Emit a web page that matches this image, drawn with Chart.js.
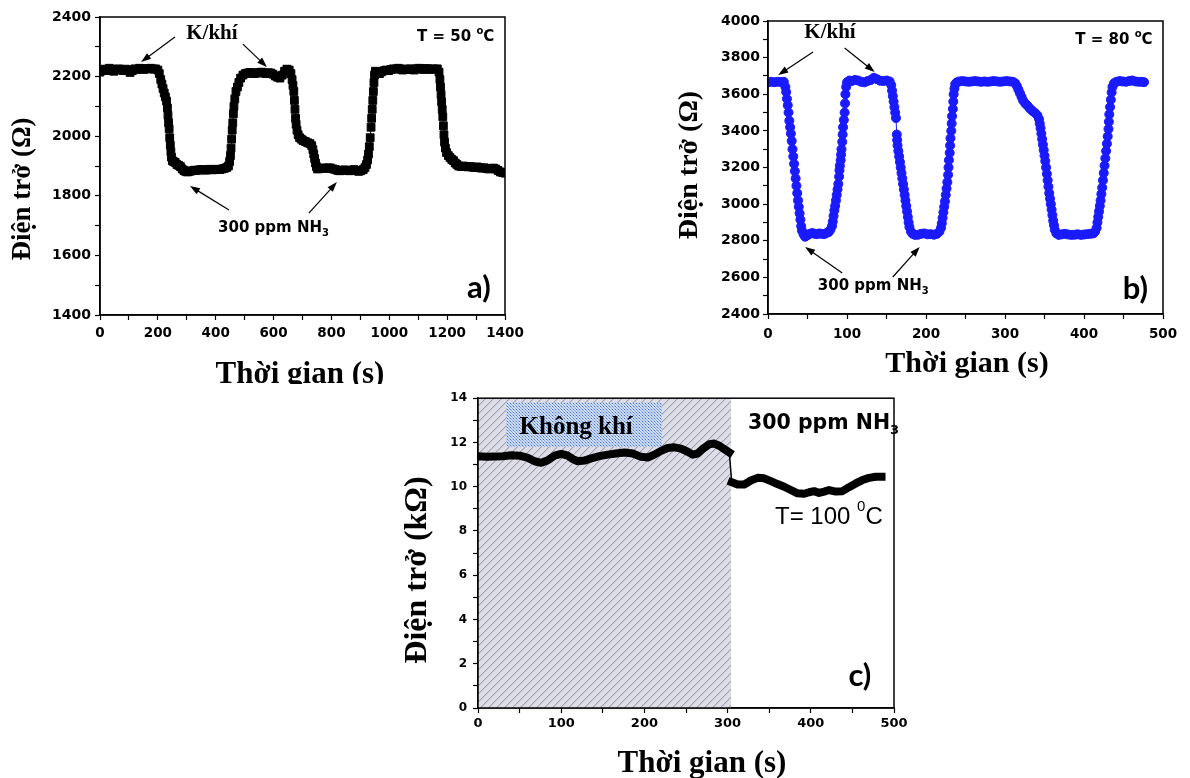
<!DOCTYPE html>
<html>
<head>
<meta charset="utf-8">
<script src="https://cdn.jsdelivr.net/npm/chart.js@4.4.1/dist/chart.umd.min.js"></script>
<style>
  body { margin: 0; background: #fff; width: 1190px; height: 778px; position: relative; overflow: hidden; }
  canvas { position: absolute; }
</style>
</head>
<body>
<canvas id="chartA" width="560" height="384" style="left:0;top:0"></canvas>
<canvas id="chartB" width="530" height="390" style="left:660px;top:0"></canvas>
<canvas id="chartC" width="530" height="393" style="left:390px;top:385px"></canvas>
<script>
// a) T = 50 oC
const tiempoA = [0, 8, 16, 24, 32, 40, 48, 56, 64, 72, 80, 88, 96, 104, 112, 120, 128, 136, 144, 152, 160, 168, 176, 184, 192, 200,
  205, 210, 214, 218, 222, 226, 230, 233, 235, 237, 239, 241, 243, 245, 247, 250, 254, 260, 266, 272, 278, 284, 290, 296, 302,
  310, 318, 326, 334, 342, 350, 358, 366, 374, 382, 390, 398, 406, 414, 422, 430, 438, 444, 448, 451, 453, 455, 457, 459, 461,
  463, 466, 470, 475, 480, 486, 494, 502, 510, 518, 526, 534, 542, 550, 558, 566, 574, 582, 590, 598, 606, 614, 622, 630, 638,
  646, 654, 660, 664, 667, 670, 672, 674, 676, 678, 681, 685, 690, 696, 702, 710, 718, 726, 732, 736, 739, 742, 745, 748, 752,
  758, 766, 774, 782, 790, 798, 806, 814, 822, 830, 838, 846, 854, 862, 870, 878, 886, 894, 902, 910, 916, 921, 925, 928, 931,
  934, 937, 939, 941, 943, 945, 947, 949, 952, 958, 966, 974, 982, 990, 998, 1006, 1014, 1022, 1030, 1038, 1046, 1054, 1062,
  1070, 1078, 1086, 1094, 1102, 1110, 1118, 1126, 1134, 1142, 1150, 1158, 1166, 1172, 1175, 1177, 1179, 1181, 1183, 1185, 1187,
  1189, 1191, 1194, 1198, 1204, 1210, 1216, 1222, 1228, 1234, 1240, 1248, 1256, 1264, 1272, 1280, 1288, 1296, 1304, 1312, 1320,
  1328, 1336, 1344, 1352, 1360, 1368, 1376, 1384, 1392, 1400];
const resistA = [2215, 2222, 2225, 2220, 2228, 2225, 2218, 2222, 2226, 2224, 2220, 2225, 2222, 2214, 2220, 2226, 2224, 2228, 2226, 2224, 2227, 2226, 2228, 2225, 2226, 2222,
  2210, 2190, 2175, 2160, 2145, 2132, 2118, 2095, 2070, 2045, 2025, 1995, 1970, 1948, 1930, 1918, 1915, 1912, 1905, 1902, 1898, 1890, 1885, 1882, 1880,
  1882, 1884, 1886, 1885, 1887, 1888, 1887, 1886, 1888, 1889, 1887, 1888, 1889, 1888, 1890, 1892, 1895, 1900, 1915, 1935, 1960, 1990, 2020, 2045, 2075,
  2100, 2125, 2150, 2165, 2180, 2195, 2205, 2210, 2212, 2214, 2212, 2210, 2212, 2214, 2215, 2212, 2210, 2213, 2212, 2208, 2202, 2198, 2195, 2205, 2218,
  2225, 2222, 2210, 2190, 2170, 2150, 2120, 2090, 2060, 2040, 2020, 2005, 1995, 1990, 1985, 1982, 1978, 1975, 1968, 1955, 1940, 1925, 1910, 1898, 1890,
  1892, 1893, 1893, 1892, 1894, 1893, 1890, 1888, 1885, 1884, 1886, 1887, 1885, 1884, 1886, 1888, 1885, 1882, 1884, 1888, 1895, 1905, 1920, 1940, 1965,
  1995, 2030, 2060, 2090, 2120, 2150, 2180, 2205, 2218, 2215, 2210, 2216, 2220, 2222, 2220, 2224, 2226, 2225, 2228, 2226, 2222, 2225, 2224,
  2226, 2225, 2222, 2226, 2228, 2226, 2224, 2227, 2226, 2224, 2226, 2225, 2226, 2215, 2190, 2165, 2140, 2115, 2090, 2065, 2035,
  2005, 1980, 1960, 1945, 1935, 1928, 1922, 1918, 1910, 1905, 1900, 1898, 1900, 1898, 1897, 1898, 1896, 1895, 1897, 1894, 1893,
  1894, 1892, 1890, 1892, 1893, 1890, 1885, 1880, 1878, 1876];

// b) T = 80 oC
const tiempoB = [0, 4, 8, 12, 16, 20, 22, 23, 24, 25, 26, 27, 28, 29, 30, 31, 32, 33, 34, 35, 36, 37, 38, 39, 40, 41, 42, 43, 45, 47,
  50, 53, 56, 59, 62, 65, 68, 71, 74, 77, 79, 81, 82, 83, 84, 85, 86, 87, 88, 89, 90, 90.5, 91, 92, 92.5, 93, 94, 94.5, 95, 96,
  97, 97.5, 98, 99, 100, 103, 106, 110, 114, 118, 122, 126, 130, 134, 138, 142, 146, 150, 154, 156, 157, 158, 159, 160, 161,
  162, 163, 163.5, 164, 165, 166, 167, 168, 169, 170, 171, 172, 173, 174, 175, 176, 177, 178, 179, 181, 183, 186, 190, 194,
  198, 202, 206, 210, 214, 217, 219, 220, 221, 222, 223, 224, 225, 226, 227, 228, 228.5, 229, 230, 230.5, 231, 232, 232.5, 233,
  234, 234.5, 235, 236, 237, 239, 242, 246, 250, 254, 258, 262, 266, 270, 274, 278, 282, 286, 290, 294, 298, 302, 306, 310,
  313, 315, 317, 319, 321, 323, 326, 329, 332, 335, 338, 341, 343, 344, 345, 346, 347, 348, 349, 350, 351, 352, 353, 354, 355,
  356, 357, 358, 359, 360, 361, 362, 363, 365, 368, 372, 376, 380, 384, 388, 392, 396, 400, 404, 408, 412, 414, 416, 417, 418,
  419, 420, 421, 422, 423, 424, 425, 426, 427, 428, 429, 430, 431, 431.5, 432, 433, 434, 435, 436, 438, 441, 445, 449, 453, 457,
  461, 465, 469, 473, 476];
const resistB = [3665, 3668, 3666, 3668, 3667, 3668, 3640, 3612, 3575, 3540, 3500, 3455, 3420, 3385, 3345, 3300, 3260, 3220, 3180, 3140, 3100, 3060, 3020, 2985, 2950, 2915, 2880, 2855, 2835, 2822,
  2830, 2838, 2842, 2838, 2836, 2840, 2838, 2836, 2842, 2848, 2860, 2880, 2905, 2935, 2965, 2990, 3020, 3050, 3080, 3110, 3150, 3185, 3210, 3240, 3270, 3300, 3340, 3380, 3420, 3460,
  3500, 3550, 3600, 3640, 3665, 3675, 3672, 3678, 3675, 3668, 3665, 3672, 3678, 3690, 3682, 3674, 3672, 3675, 3670, 3650, 3620, 3590, 3560, 3530, 3500,
  3470, 3380, 3350, 3320, 3290, 3260, 3230, 3200, 3170, 3140, 3110, 3080, 3050, 3020, 2990, 2960, 2930, 2900, 2875, 2850, 2838, 2832, 2833, 2838,
  2840, 2835, 2836, 2833, 2838, 2850, 2870, 2895, 2925, 2955, 2985, 3015, 3050, 3085, 3120, 3160, 3200, 3240, 3280, 3320, 3360, 3400, 3440, 3480,
  3520, 3560, 3600, 3630, 3655, 3665, 3670, 3672, 3670, 3668, 3670, 3672, 3670, 3668, 3670, 3668, 3670, 3672, 3670, 3668, 3670, 3672, 3670, 3668,
  3660, 3645, 3625, 3605, 3585, 3565, 3548, 3535, 3520, 3508, 3498, 3485, 3465, 3440, 3415, 3385, 3355, 3325, 3295, 3265, 3235, 3200, 3165, 3130, 3095,
  3060, 3030, 3000, 2970, 2940, 2910, 2885, 2860, 2840, 2832, 2835, 2838, 2834, 2832, 2833, 2835, 2832, 2834, 2836, 2838, 2840, 2850, 2870, 2900, 2930,
  2960, 2990, 3020, 3055, 3090, 3130, 3170, 3210, 3250, 3290, 3330, 3370, 3410, 3450, 3490, 3530, 3570, 3610, 3640, 3660, 3668, 3672, 3670, 3668, 3672,
  3675, 3670, 3668, 3668, 3666];

// c) T = 100 oC (kOhm)
const tiempoC = [0, 10, 20, 30, 40, 50, 60, 68, 76, 84, 92, 100, 108, 114, 120, 128, 136, 146, 156, 166, 176, 186, 196, 204, 212,
  220, 228, 236, 244, 252, 258, 264, 270, 278, 284, 290, 296, 302,
  305, 312, 320, 328, 336, 344, 352, 360, 368, 376, 384, 392, 398, 404, 410, 416, 422, 430, 438, 446, 454, 462, 470, 478, 485];
const resistC = [11.38, 11.35, 11.36, 11.38, 11.42, 11.4, 11.3, 11.15, 11.08, 11.2, 11.4, 11.48, 11.4, 11.25, 11.15, 11.18, 11.28, 11.38, 11.45, 11.5, 11.55, 11.5, 11.35, 11.32, 11.45,
  11.62, 11.75, 11.78, 11.72, 11.58, 11.45, 11.5, 11.7, 11.92, 11.95, 11.85, 11.7, 11.55,
  10.2, 10.1, 10.1, 10.28, 10.4, 10.38, 10.25, 10.12, 10.0, 9.85, 9.7, 9.68, 9.75, 9.8, 9.72, 9.78, 9.85, 9.78, 9.8, 9.98, 10.15, 10.3, 10.4, 10.45, 10.45];
const zonaAireC = [0, 304];          // hatched "Không khí" region (s)
const cajaAireC = [34, 221, 11.8, 13.8]; // blue label box: t0, t1, R0, R1

const sansB = s => 'bold ' + s + 'px "DejaVu Sans"';
const serifB = s => 'bold ' + s + 'px "Liberation Serif"';

function puntos(xs, ys) {
  return xs.map((x, i) => ({ x: x, y: ys[i] }));
}

function escala(min, max, paso, cada, size, pad, fit, horizontal) {
  return {
    type: 'linear', min: min, max: max,
    afterFit: s => { if (horizontal) s.height = fit; else s.width = fit; },
    border: { color: '#000', width: 1.5 },
    grid: { drawOnChartArea: false, tickLength: 5, tickColor: '#000', tickWidth: 1.2 },
    ticks: {
      stepSize: paso, autoSkip: false, maxRotation: 0, padding: pad, color: '#000',
      font: { family: 'DejaVu Sans', weight: 'bold', size: size },
      callback: v => (v % cada === 0 ? v : '')
    }
  };
}

// text with sub/superscripts: partes = [[texto, fuente, dy], ...]
function textoPartes(ctx, partes, x, y, align) {
  let total = 0;
  partes.forEach(p => { ctx.font = p[1]; total += ctx.measureText(p[0]).width; });
  let cx = align === 'center' ? x - total / 2 : x;
  ctx.textAlign = 'left';
  partes.forEach(p => {
    ctx.font = p[1];
    ctx.fillText(p[0], cx, y + (p[2] || 0));
    cx += ctx.measureText(p[0]).width;
  });
}

function flecha(ctx, x0, y0, x1, y1) {
  const ang = Math.atan2(y1 - y0, x1 - x0);
  ctx.lineWidth = 1.2;
  ctx.beginPath();
  ctx.moveTo(x0, y0);
  ctx.lineTo(x1 - 6 * Math.cos(ang), y1 - 6 * Math.sin(ang));
  ctx.stroke();
  ctx.beginPath();
  ctx.moveTo(x1, y1);
  ctx.lineTo(x1 - 10 * Math.cos(ang) + 3.5 * Math.sin(ang), y1 - 10 * Math.sin(ang) - 3.5 * Math.cos(ang));
  ctx.lineTo(x1 - 10 * Math.cos(ang) - 3.5 * Math.sin(ang), y1 - 10 * Math.sin(ang) + 3.5 * Math.cos(ang));
  ctx.closePath();
  ctx.fill();
}

// draws frame, titles, labels and arrows
const anotaciones = {
  id: 'anotaciones',
  afterDraw(chart, args, opts) {
    const ctx = chart.ctx, a = chart.chartArea;
    const sx = chart.scales.x, sy = chart.scales.y;
    ctx.save();
    ctx.strokeStyle = '#000';
    ctx.fillStyle = '#000';
    ctx.lineWidth = 1.5;
    ctx.strokeRect(a.left, a.top, a.right - a.left, a.bottom - a.top);
    ctx.textBaseline = 'middle';
    (opts.textos || []).forEach(t => {
      textoPartes(ctx, t.partes, sx.getPixelForValue(t.x), sy.getPixelForValue(t.y), t.align || 'left');
    });
    (opts.flechas || []).forEach(f => {
      flecha(ctx, sx.getPixelForValue(f[0]), sy.getPixelForValue(f[1]), sx.getPixelForValue(f[2]), sy.getPixelForValue(f[3]));
    });
    const ty = opts.tituloY;
    ctx.save();
    ctx.translate(ty.x, ty.y);
    ctx.rotate(-Math.PI / 2);
    ctx.font = ty.font;
    ctx.textAlign = 'center';
    ctx.fillText(ty.texto, 0, 0);
    ctx.restore();
    const tx = opts.tituloX;
    ctx.textBaseline = 'alphabetic';
    ctx.textAlign = 'center';
    ctx.font = tx.font;
    ctx.fillText(tx.texto, tx.x, tx.y);
    ctx.restore();
  }
};
Chart.register(anotaciones);

// hatched air region + blue label box for panel c
const zonaAire = {
  id: 'zonaAire',
  beforeDatasetsDraw(chart) {
    const ctx = chart.ctx, sx = chart.scales.x, sy = chart.scales.y;
    const x0 = sx.getPixelForValue(zonaAireC[0]), x1 = sx.getPixelForValue(zonaAireC[1]);
    const top = sy.getPixelForValue(sy.max), bot = sy.getPixelForValue(sy.min);
    ctx.save();
    ctx.fillStyle = '#dddde7';
    ctx.fillRect(x0, top, x1 - x0, bot - top);
    ctx.beginPath();
    ctx.rect(x0, top, x1 - x0, bot - top);
    ctx.clip();
    ctx.strokeStyle = '#8c8c98';
    ctx.lineWidth = 1;
    const h = bot - top;
    ctx.beginPath();
    for (let k = x0 - h; k < x1; k += 8) {
      ctx.moveTo(k, bot);
      ctx.lineTo(k + h, top);
    }
    ctx.stroke();
    // fine blue dots for the label box
    const pc = document.createElement('canvas');
    pc.width = 3; pc.height = 3;
    const p = pc.getContext('2d');
    p.fillStyle = '#cfdef6'; p.fillRect(0, 0, 3, 3);
    p.fillStyle = '#3f6fc6';
    p.fillRect(0, 0, 1, 1);
    p.fillStyle = '#88a8dc';
    p.fillRect(1, 1, 1, 1); p.fillRect(2, 2, 1, 1);
    ctx.fillStyle = ctx.createPattern(pc, 'repeat');
    const bx0 = sx.getPixelForValue(cajaAireC[0]), bx1 = sx.getPixelForValue(cajaAireC[1]);
    const by0 = sy.getPixelForValue(cajaAireC[3]), by1 = sy.getPixelForValue(cajaAireC[2]);
    ctx.fillRect(bx0, by0, bx1 - bx0, by1 - by0);
    ctx.restore();
  }
};

const base = {
  responsive: false,
  animation: false,
  events: []
};

new Chart(document.getElementById('chartA'), {
  type: 'scatter',
  data: {
    datasets: [{
      data: puntos(tiempoA, resistA),
      showLine: true,
      borderColor: '#000', borderWidth: 1,
      pointStyle: 'rect', pointRadius: 5.5, pointBorderWidth: 1,
      pointBackgroundColor: '#000', pointBorderColor: '#000'
    }]
  },
  options: Object.assign({}, base, {
    layout: { padding: { left: 0, top: 17, right: 55, bottom: 0 } },
    scales: {
      x: escala(0, 1400, 100, 200, 13.5, 5, 69, true),
      y: escala(1400, 2400, 100, 200, 14, 4, 100, false)
    },
    plugins: {
      legend: { display: false }, tooltip: { enabled: false },
      anotaciones: {
        textos: [
          { x: 387, y: 2346, align: 'center', partes: [['K/khí', serifB(21)]] },
          { x: 1096, y: 2333, partes: [['T = 50 ', sansB(15)], ['o', sansB(10), -6], ['C', sansB(15)]] },
          { x: 408, y: 1692, partes: [['300 ppm NH', sansB(15)], ['3', sansB(10), 5]] },
          { x: 1310, y: 1490, align: 'center', partes: [['a)', 'bold 31px Lato']] }
        ],
        flechas: [[259, 2333, 142, 2249], [494, 2309, 577, 2232], [446, 1752, 311, 1833], [722, 1742, 819, 1846]],
        tituloY: { texto: 'Điện trở (Ω)', font: serifB(27), x: 23, y: 189 },
        tituloX: { texto: 'Thời gian (s)', font: serifB(31), x: 300, y: 383 }
      }
    }
  })
});

new Chart(document.getElementById('chartB'), {
  type: 'scatter',
  data: {
    datasets: [{
      data: puntos(tiempoB, resistB),
      showLine: true,
      borderColor: '#1a1aff', borderWidth: 1,
      pointStyle: 'circle', pointRadius: 4.5, pointBorderWidth: 1,
      pointBackgroundColor: '#1a1aff', pointBorderColor: '#1a1aff'
    }]
  },
  options: Object.assign({}, base, {
    layout: { padding: { left: 0, top: 21, right: 27, bottom: 0 } },
    scales: {
      x: escala(0, 500, 50, 100, 13.5, 7, 76, true),
      y: escala(2400, 4000, 100, 200, 14, 3, 108, false)
    },
    plugins: {
      legend: { display: false }, tooltip: { enabled: false },
      anotaciones: {
        textos: [
          { x: 78.5, y: 3935, align: 'center', partes: [['K/khí', serifB(21)]] },
          { x: 389, y: 3896, partes: [['T = 80 ', sansB(15)], ['o', sansB(10), -6], ['C', sansB(15)]] },
          { x: 63, y: 2553, partes: [['300 ppm NH', sansB(15)], ['3', sansB(10), 5]] },
          { x: 465, y: 2537, align: 'center', partes: [['b)', 'bold 31px Lato']] }
        ],
        flechas: [[57, 3831, 13, 3705], [97, 3853, 135, 3722], [94, 2624, 47, 2766], [158, 2602, 192, 2766]],
        tituloY: { texto: 'Điện trở (Ω)', font: serifB(28), x: 30, y: 165 },
        tituloX: { texto: 'Thời gian (s)', font: serifB(30), x: 307, y: 372 }
      }
    }
  })
});

new Chart(document.getElementById('chartC'), {
  type: 'scatter',
  data: {
    datasets: [{
      data: puntos(tiempoC, resistC),
      showLine: true,
      borderColor: '#000', borderWidth: 8,
      borderCapStyle: 'square', borderJoinStyle: 'round',
      pointRadius: 0,
      segment: { borderWidth: c => (c.p0.parsed.y - c.p1.parsed.y > 1 ? 1.5 : 8) }
    }]
  },
  plugins: [zonaAire],
  options: Object.assign({}, base, {
    layout: { padding: { left: 0, top: 13, right: 26, bottom: 0 } },
    scales: {
      x: escala(0, 500, 50, 100, 13, 3, 70, true),
      y: escala(0, 14, 1, 2, 12, 6, 88, false)
    },
    plugins: {
      legend: { display: false }, tooltip: { enabled: false },
      anotaciones: {
        textos: [
          { x: 118, y: 12.69, align: 'center', partes: [['Không khí', serifB(25)]] },
          { x: 324.5, y: 12.87, partes: [['300 ppm NH', sansB(20.5)], ['3', sansB(13), 7]] },
          { x: 357, y: 8.63, partes: [['T= 100 ', '24px "Liberation Sans"'], ['0', '15px "Liberation Sans"', -10], ['C', '24px "Liberation Sans"']] },
          { x: 459, y: 1.45, align: 'center', partes: [['c)', 'bold 31px Lato']] }
        ],
        flechas: [],
        tituloY: { texto: 'Điện trở (kΩ)', font: serifB(32), x: 28, y: 185 },
        tituloX: { texto: 'Thời gian (s)', font: serifB(31), x: 312, y: 387 }
      }
    }
  })
});
</script>
</body>
</html>
